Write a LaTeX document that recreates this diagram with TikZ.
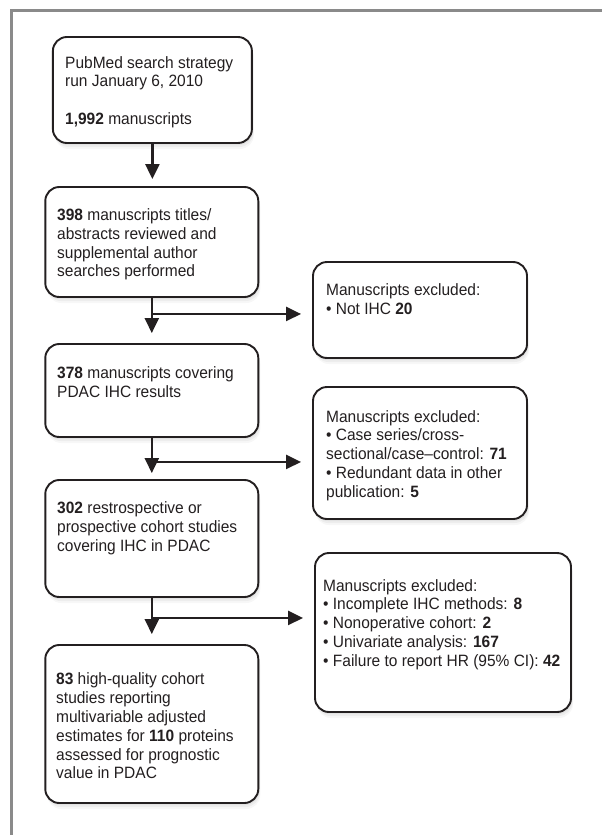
\documentclass[tikz,border=0pt]{standalone}
\usepackage{fontspec}
\setmainfont{Liberation Sans}[FakeStretch=0.945]
\usetikzlibrary{arrows.meta}
\definecolor{ink}{HTML}{231F20}
\definecolor{framegray}{HTML}{8A8A8A}
\begin{document}
\begin{tikzpicture}[x=1pt,y=-1pt,
  box/.style={draw=ink, line width=1.9pt, rounded corners=14pt, fill=white, inner sep=0pt,
    preaction={fill=black, fill opacity=0.05, transform canvas={xshift=1pt,yshift=-2pt}},
    preaction={fill=black, fill opacity=0.04, transform canvas={xshift=1.5pt,yshift=-4pt}},
    preaction={fill=black, fill opacity=0.03, transform canvas={xshift=2pt,yshift=-6pt}}},
  txt/.style={anchor=west, align=left, inner sep=0pt, text=ink, font=\fontsize{16.4}{18.8}\selectfont},
  arr/.style={draw=ink, line width=2.4pt, -{Triangle[length=15pt,width=14pt]}},
  frame/.style={draw=framegray, line width=2.6pt}]
\useasboundingbox (0,0) rectangle (602,835);
\draw[frame] (11.7,845) -- (11.7,10.5) -- (612,10.5);

% left column boxes
\node[box, minimum width=199pt, minimum height=106pt] (b1) at (152.4,90) {};
\node[box, minimum width=213pt, minimum height=110pt] (b2) at (151.8,242) {};
\node[box, minimum width=213pt, minimum height=93pt] (b3) at (151.8,390.5) {};
\node[box, minimum width=213pt, minimum height=117pt] (b4) at (151.8,538.5) {};
\node[box, minimum width=213pt, minimum height=158pt] (b5) at (151.8,724) {};
% exclusion boxes
\node[box, minimum width=214pt, minimum height=96pt] (e1) at (420,310) {};
\node[box, minimum width=214pt, minimum height=132pt] (e2) at (420,453) {};
\node[box, minimum width=256pt, minimum height=159pt] (e3) at (443,632.5) {};

% texts
\node[txt] (t1) at (65,92) {PubMed search strategy\\run January 6, 2010\\[18.5pt]\textbf{1,992} manuscripts};
\node[txt] (t2) at (57,244.5) {\textbf{398} manuscripts titles/\\abstracts reviewed and\\supplemental author\\searches performed};
\node[txt] (t3) at (57,382.5) {\textbf{378} manuscripts covering\\PDAC IHC results};
\node[txt] (t4) at (57,528) {\textbf{302} restrospective or\\prospective cohort studies\\covering IHC in PDAC};
\node[txt] (t5) at (56,726) {\textbf{83} high-quality cohort\\studies reporting\\multivariable adjusted\\estimates for \textbf{110} proteins\\assessed for prognostic\\value in PDAC};
\node[txt] (te1) at (326,299.5) {Manuscripts excluded:\\• Not IHC \textbf{20}};
\node[txt] (te2) at (326,455.5) {Manuscripts excluded:\\• Case series/cross-\\sectional/case–control: \textbf{71}\\• Redundant data in other\\publication: \textbf{5}};
\node[txt] (te3) at (323,624.5) {Manuscripts excluded:\\• Incomplete IHC methods: \textbf{8}\\• Nonoperative cohort: \textbf{2}\\• Univariate analysis: \textbf{167}\\• Failure to report HR (95\% CI): \textbf{42}};

% junctions
\path (b2.south) ++(0,16) coordinate (j1);
\path (b3.south) ++(0,24) coordinate (j2);
\path (b4.south) ++(0,20) coordinate (j3);

% connectors
\draw[arr, shorten >=7pt] (b1.south) -- (b1.south |- b2.north);
\draw[arr, shorten >=10pt] (b2.south) -- (b2.south |- b3.north);
\draw[arr, shorten >=6pt] (b3.south) -- (b3.south |- b4.north);
\draw[arr, shorten >=10pt] (b4.south) -- (b4.south |- b5.north);
\draw[arr, shorten >=11pt] (j1) -- (e1.west |- j1);
\draw[arr, shorten >=11pt] (j2) -- (e2.west |- j2);
\draw[arr, shorten >=11pt] (j3) -- (e3.west |- j3);
\end{tikzpicture}
\end{document}
